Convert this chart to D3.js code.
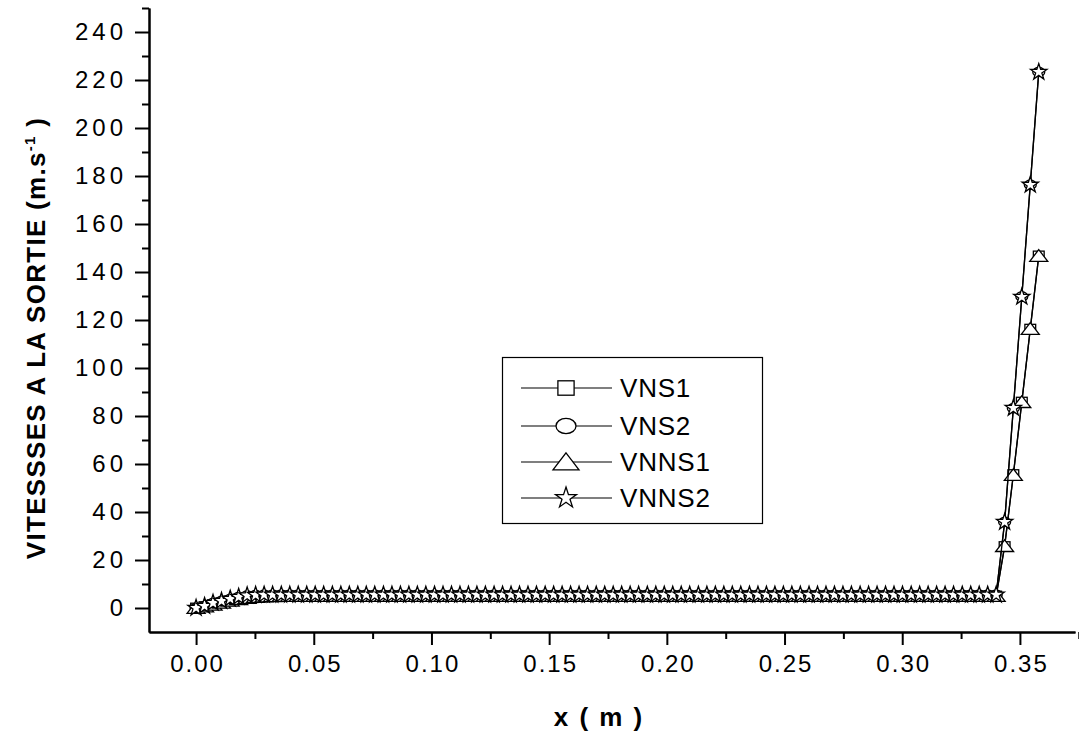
<!DOCTYPE html>
<html>
<head>
<meta charset="utf-8">
<script src="https://cdn.jsdelivr.net/npm/d3@7"></script>
<style>
  body { margin: 0; background: #fff; }
  text { font-family: "Liberation Sans", Arial, sans-serif; fill: #000; }
</style>
</head>
<body>
<div id="chart"></div>
<script>
// x positions along the nozzle (m)
const xPos = [
  0, 0.0036, 0.0072, 0.0108, 0.0145, 0.0181, 0.0217, 0.0253, 0.0289, 0.0325,
  0.0362, 0.0398, 0.0434, 0.0470, 0.0506, 0.0542, 0.0579, 0.0615, 0.0651, 0.0687,
  0.0723, 0.0759, 0.0796, 0.0832, 0.0868, 0.0904, 0.0940, 0.0976, 0.1013, 0.1049,
  0.1085, 0.1121, 0.1157, 0.1193, 0.1229, 0.1266, 0.1302, 0.1338, 0.1374, 0.1410,
  0.1446, 0.1483, 0.1519, 0.1555, 0.1591, 0.1627, 0.1663, 0.1700, 0.1736, 0.1772,
  0.1808, 0.1844, 0.1880, 0.1917, 0.1953, 0.1989, 0.2025, 0.2061, 0.2097, 0.2134,
  0.2170, 0.2206, 0.2242, 0.2278, 0.2314, 0.2351, 0.2387, 0.2423, 0.2459, 0.2495,
  0.2531, 0.2567, 0.2604, 0.2640, 0.2676, 0.2712, 0.2748, 0.2784, 0.2821, 0.2857,
  0.2893, 0.2929, 0.2965, 0.3001, 0.3038, 0.3074, 0.3110, 0.3146, 0.3182, 0.3218,
  0.3255, 0.3291, 0.3327, 0.3363, 0.3399, 0.3435, 0.3472, 0.3508, 0.3544, 0.3580
];

// exit velocities (m/s)
const VNS1 = [
  0, 0.6, 1.4, 2.2, 3.0, 3.7, 4.2, 4.6, 4.8, 4.9,
  5.0, 5.0, 5.0, 5.0, 5.0, 5.0, 5.0, 5.0, 5.0, 5.0,
  5.0, 5.0, 5.0, 5.0, 5.0, 5.0, 5.0, 5.0, 5.0, 5.0,
  5.0, 5.0, 5.0, 5.0, 5.0, 5.0, 5.0, 5.0, 5.0, 5.0,
  5.0, 5.0, 5.0, 5.0, 5.0, 5.0, 5.0, 5.0, 5.0, 5.0,
  5.0, 5.0, 5.0, 5.0, 5.0, 5.0, 5.0, 5.0, 5.0, 5.0,
  5.0, 5.0, 5.0, 5.0, 5.0, 5.0, 5.0, 5.0, 5.0, 5.0,
  5.0, 5.0, 5.0, 5.0, 5.0, 5.0, 5.0, 5.0, 5.0, 5.0,
  5.0, 5.0, 5.0, 5.0, 5.0, 5.0, 5.0, 5.0, 5.0, 5.0,
  5.0, 5.0, 5.0, 5.0, 5.0, 25.6, 55.6, 85.8, 116.2, 146.7
];
const VNS2 = [
  0, 0.8, 2.1, 2.9, 3.8, 4.6, 5.2, 5.4, 5.5, 5.5,
  5.5, 5.5, 5.5, 5.5, 5.5, 5.5, 5.5, 5.5, 5.5, 5.5,
  5.5, 5.5, 5.5, 5.5, 5.5, 5.5, 5.5, 5.5, 5.5, 5.5,
  5.5, 5.5, 5.5, 5.5, 5.5, 5.5, 5.5, 5.5, 5.5, 5.5,
  5.5, 5.5, 5.5, 5.5, 5.5, 5.5, 5.5, 5.5, 5.5, 5.5,
  5.5, 5.5, 5.5, 5.5, 5.5, 5.5, 5.5, 5.5, 5.5, 5.5,
  5.5, 5.5, 5.5, 5.5, 5.5, 5.5, 5.5, 5.5, 5.5, 5.5,
  5.5, 5.5, 5.5, 5.5, 5.5, 5.5, 5.5, 5.5, 5.5, 5.5,
  5.5, 5.5, 5.5, 5.5, 5.5, 5.5, 5.5, 5.5, 5.5, 5.5,
  5.5, 5.5, 5.5, 5.5, 5.5, 35.8, 83.2, 129.8, 176.4, 223.3
];
const VNNS1 = [
  0, 0.6, 1.4, 2.2, 3.0, 3.7, 4.2, 4.6, 4.8, 4.9,
  5.0, 5.0, 5.0, 5.0, 5.0, 5.0, 5.0, 5.0, 5.0, 5.0,
  5.0, 5.0, 5.0, 5.0, 5.0, 5.0, 5.0, 5.0, 5.0, 5.0,
  5.0, 5.0, 5.0, 5.0, 5.0, 5.0, 5.0, 5.0, 5.0, 5.0,
  5.0, 5.0, 5.0, 5.0, 5.0, 5.0, 5.0, 5.0, 5.0, 5.0,
  5.0, 5.0, 5.0, 5.0, 5.0, 5.0, 5.0, 5.0, 5.0, 5.0,
  5.0, 5.0, 5.0, 5.0, 5.0, 5.0, 5.0, 5.0, 5.0, 5.0,
  5.0, 5.0, 5.0, 5.0, 5.0, 5.0, 5.0, 5.0, 5.0, 5.0,
  5.0, 5.0, 5.0, 5.0, 5.0, 5.0, 5.0, 5.0, 5.0, 5.0,
  5.0, 5.0, 5.0, 5.0, 5.0, 25.8, 55.4, 85.8, 116.3, 146.7
];
const VNNS2 = [
  0, 0.8, 2.1, 2.9, 3.8, 4.6, 5.2, 5.4, 5.5, 5.5,
  5.5, 5.5, 5.5, 5.5, 5.5, 5.5, 5.5, 5.5, 5.5, 5.5,
  5.5, 5.5, 5.5, 5.5, 5.5, 5.5, 5.5, 5.5, 5.5, 5.5,
  5.5, 5.5, 5.5, 5.5, 5.5, 5.5, 5.5, 5.5, 5.5, 5.5,
  5.5, 5.5, 5.5, 5.5, 5.5, 5.5, 5.5, 5.5, 5.5, 5.5,
  5.5, 5.5, 5.5, 5.5, 5.5, 5.5, 5.5, 5.5, 5.5, 5.5,
  5.5, 5.5, 5.5, 5.5, 5.5, 5.5, 5.5, 5.5, 5.5, 5.5,
  5.5, 5.5, 5.5, 5.5, 5.5, 5.5, 5.5, 5.5, 5.5, 5.5,
  5.5, 5.5, 5.5, 5.5, 5.5, 5.5, 5.5, 5.5, 5.5, 5.5,
  5.5, 5.5, 5.5, 5.5, 5.5, 35.8, 83.3, 129.6, 176.3, 223.3
];

const seriesNames = ["VNS1", "VNS2", "VNNS1", "VNNS2"];
const xTicks = [0, 0.05, 0.10, 0.15, 0.20, 0.25, 0.30, 0.35];
const xMinorTicks = [0.025, 0.075, 0.125, 0.175, 0.225, 0.275, 0.325, 0.375];
const yTicks = [0, 20, 40, 60, 80, 100, 120, 140, 160, 180, 200, 220, 240];
const yMinorTicks = [10, 30, 50, 70, 90, 110, 130, 150, 170, 190, 210, 230, 250];

const W = 1079, H = 731;
const svg = d3.select("#chart").append("svg")
    .attr("width", W)
    .attr("height", H);

const x = d3.scaleLinear().domain([-0.02, 0.3734]).range([149, 1075]);
const y = d3.scaleLinear().domain([-10, 250]).range([632, 8]);

// axes
svg.append("g")
    .attr("transform", "translate(0,632)")
    .call(d3.axisBottom(x).tickValues(xMinorTicks).tickSize(7).tickSizeOuter(0).tickFormat(""));
const xAxis = svg.append("g")
    .attr("transform", "translate(0,632)")
    .call(d3.axisBottom(x).tickValues(xTicks).tickSize(13).tickSizeOuter(0).tickPadding(10).tickFormat(d3.format(".2f")));
xAxis.selectAll("text")
    .style("font-size", "24px")
    .style("letter-spacing", "2px")
    .attr("dx", "1px");

svg.append("g")
    .attr("transform", "translate(149,0)")
    .call(d3.axisLeft(y).tickValues(yMinorTicks).tickSize(7).tickSizeOuter(0).tickFormat(""));
const yAxis = svg.append("g")
    .attr("transform", "translate(149,0)")
    .call(d3.axisLeft(y).tickValues(yTicks).tickSize(14).tickSizeOuter(0).tickPadding(12));
yAxis.selectAll("text")
    .style("font-size", "24px")
    .style("letter-spacing", "4px")
    .attr("dx", "4px");

svg.selectAll(".domain").attr("stroke", "#000").attr("stroke-width", 2);
svg.selectAll(".tick line").attr("stroke", "#000").attr("stroke-width", 2);

// axis titles
svg.append("text")
    .attr("x", 599)
    .attr("y", 726)
    .attr("text-anchor", "middle")
    .style("font-size", "26px")
    .style("font-weight", "bold")
    .style("letter-spacing", "2px")
    .text("x ( m )");

const yTitle = svg.append("text")
    .attr("transform", "translate(45,338) rotate(-90)")
    .attr("text-anchor", "middle")
    .style("font-size", "26px")
    .style("font-weight", "bold")
    .style("letter-spacing", "1.3px");
yTitle.append("tspan").text("VITESSSES A LA SORTIE (m.s");
yTitle.append("tspan").attr("dy", "-10").style("font-size", "15px").text("-1");
yTitle.append("tspan").attr("dy", "10").text(" )");

// marker shapes
const markers = {
  VNS1: (g, s) => g.append("rect").attr("x", -s * 0.45).attr("y", -s * 0.4).attr("width", s * 0.9).attr("height", s * 0.8),
  VNS2: (g, s) => g.append("ellipse").attr("rx", s * 0.5).attr("ry", s * 0.38),
  VNNS1: (g, s) => g.append("path").attr("d", `M0,${-s * 0.35}L${s * 0.5},${s * 0.3}L${-s * 0.5},${s * 0.3}Z`),
  VNNS2: (g, s) => g.append("path").attr("d", d3.symbol(d3.symbolStar, s * s * 0.42)())
};

const seriesData = { VNS1, VNS2, VNNS1, VNNS2 };
const markerSize = { VNS1: 12, VNS2: 12, VNNS1: 18, VNNS2: 14 };

const line = d3.line()
    .x(d => x(d[0]))
    .y(d => y(d[1]));

seriesNames.forEach(name => {
  const pts = xPos.map((xv, i) => [xv, seriesData[name][i]]);
  svg.append("path")
      .datum(pts)
      .attr("fill", "none")
      .attr("stroke", "#000")
      .attr("stroke-width", 1.3)
      .attr("d", line);

  pts.forEach(p => {
    const g = svg.append("g").attr("transform", `translate(${x(p[0])},${y(p[1])})`);
    markers[name](g, markerSize[name])
        .attr("fill", "#fff")
        .attr("stroke", "#000")
        .attr("stroke-width", 1.3);
  });
});

// legend
const legend = svg.append("g");
legend.append("rect")
    .attr("x", 502.5).attr("y", 357.5)
    .attr("width", 260).attr("height", 166)
    .attr("fill", "#fff")
    .attr("stroke", "#000")
    .attr("stroke-width", 1.2);

const legendSize = { VNS1: 18, VNS2: 20, VNNS1: 26, VNNS2: 18 };
const legendRows = [388, 426, 462, 498];
seriesNames.forEach((name, i) => {
  const ly = legendRows[i];
  legend.append("line")
      .attr("x1", 521).attr("x2", 612)
      .attr("y1", ly).attr("y2", ly)
      .attr("stroke", "#000").attr("stroke-width", 1.2);
  const g = legend.append("g").attr("transform", `translate(566,${ly})`);
  markers[name](g, legendSize[name])
      .attr("fill", "#fff")
      .attr("stroke", "#000")
      .attr("stroke-width", 1.3);
  legend.append("text")
      .attr("x", 620)
      .attr("y", ly + 9)
      .style("font-size", "26px")
      .style("letter-spacing", "0.8px")
      .text(name);
});
</script>
</body>
</html>
